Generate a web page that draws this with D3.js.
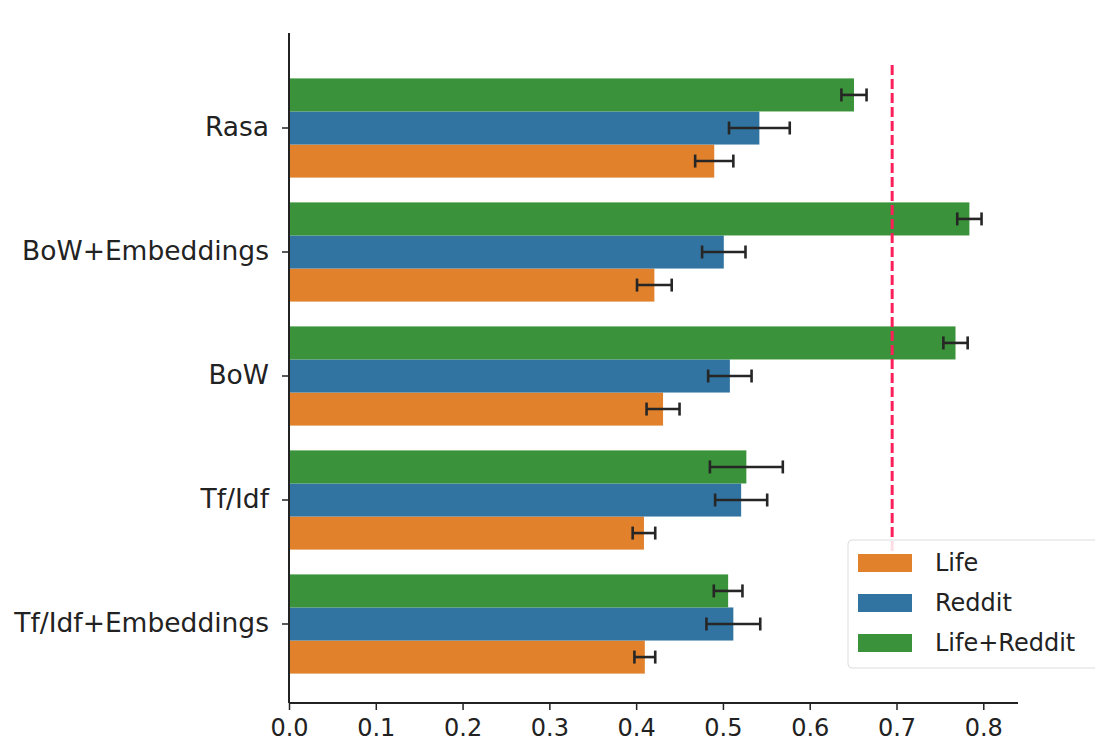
<!DOCTYPE html>
<html>
<head>
<meta charset="utf-8">
<script src="https://cdn.jsdelivr.net/npm/d3@7"></script>
<style>
	body { margin: 0; background: #fff; }
	text { font-family: "DejaVu Sans", sans-serif; fill: #222; }
</style>
</head>
<body>
<div id="container"></div>
<script>
const models = ["Rasa", "BoW+Embeddings", "BoW", "Tf/Idf", "Tf/Idf+Embeddings"];
const seriesNames = ["Life", "Reddit", "Life+Reddit"];
const lifeValues = [0.49, 0.421, 0.431, 0.409, 0.41];
const redditValues = [0.542, 0.501, 0.508, 0.521, 0.512];
const lifeRedditValues = [0.651, 0.784, 0.768, 0.527, 0.506];
const lifeErr = [0.022, 0.02, 0.019, 0.013, 0.012];
const redditErr = [0.035, 0.025, 0.025, 0.03, 0.031];
const lifeRedditErr = [0.0145, 0.014, 0.014, 0.042, 0.0165];
const xTicks = [0, 0.1, 0.2, 0.3, 0.4, 0.5, 0.6, 0.7, 0.8];
const refLine = 0.695;

const colors = { "Life": "#e1812c", "Reddit": "#3274a1", "Life+Reddit": "#3a923a" };
// stacking order inside a group, top to bottom
const stackOrder = ["Life+Reddit", "Reddit", "Life"];

const rows = [];
models.forEach((m, i) => {
	rows.push({ model: m, series: "Life", value: lifeValues[i], err: lifeErr[i] });
	rows.push({ model: m, series: "Reddit", value: redditValues[i], err: redditErr[i] });
	rows.push({ model: m, series: "Life+Reddit", value: lifeRedditValues[i], err: lifeRedditErr[i] });
});

const width = 1095;
const height = 749;

const svg = d3.select("#container").append("svg")
	.attr("width", width)
	.attr("height", height);

const x = d3.scaleLinear().domain([0, 0.84]).range([289, 1018]);

const y = d3.scaleBand()
	.domain(models)
	.range([66, 686])
	.paddingInner(0.2)
	.paddingOuter(0.1);

const ySub = d3.scaleBand()
	.domain(stackOrder)
	.range([0, y.bandwidth()]);

// bars
svg.append("g")
	.selectAll("rect")
	.data(rows)
	.join("rect")
	.attr("x", x(0))
	.attr("y", (d) => y(d.model) + ySub(d.series))
	.attr("width", (d) => x(d.value) - x(0))
	.attr("height", ySub.bandwidth())
	.attr("fill", (d) => colors[d.series]);

// error bars
const errG = svg.append("g")
	.selectAll("g")
	.data(rows)
	.join("g")
	.attr("stroke", "#262626")
	.attr("stroke-width", 2.6);

errG.append("line")
	.attr("x1", (d) => x(d.value - d.err))
	.attr("x2", (d) => x(d.value + d.err))
	.attr("y1", (d) => y(d.model) + ySub(d.series) + ySub.bandwidth() / 2)
	.attr("y2", (d) => y(d.model) + ySub(d.series) + ySub.bandwidth() / 2);

[-1, 1].forEach((s) => {
	errG.append("line")
		.attr("x1", (d) => x(d.value + s * d.err))
		.attr("x2", (d) => x(d.value + s * d.err))
		.attr("y1", (d) => y(d.model) + ySub(d.series) + ySub.bandwidth() / 2 - 6.5)
		.attr("y2", (d) => y(d.model) + ySub(d.series) + ySub.bandwidth() / 2 + 6.5);
});

// reference line
svg.append("line")
	.attr("x1", x(refLine))
	.attr("x2", x(refLine))
	.attr("y1", 65)
	.attr("y2", 560)
	.attr("stroke", "#ff1f5a")
	.attr("stroke-width", 3)
	.attr("stroke-dasharray", "10,4");

// axes
const xAxis = d3.axisBottom(x)
	.tickValues(xTicks)
	.tickFormat(d3.format(".1f"))
	.tickSize(7)
	.tickSizeOuter(0);

svg.append("g")
	.attr("class", "x-axis")
	.attr("transform", `translate(0, 703)`)
	.call(xAxis);

const yAxis = d3.axisLeft(y).tickSize(7).tickPadding(13).tickSizeOuter(0);

svg.append("g")
	.attr("class", "y-axis")
	.attr("transform", `translate(289, 0)`)
	.call(yAxis);

svg.selectAll(".x-axis text").attr("font-size", 24).attr("dy", "0.95em");
svg.selectAll(".y-axis text").attr("font-size", 26.5);
svg.selectAll(".x-axis .tick line, .y-axis .tick line").attr("stroke", "#222").attr("stroke-width", 1.5);
svg.selectAll(".x-axis path, .y-axis path").remove();

// spines
svg.append("line")
	.attr("x1", 289).attr("x2", 289)
	.attr("y1", 33).attr("y2", 703)
	.attr("stroke", "#222").attr("stroke-width", 2);
svg.append("line")
	.attr("x1", 289).attr("x2", x(0.84))
	.attr("y1", 703).attr("y2", 703)
	.attr("stroke", "#222").attr("stroke-width", 2);

// legend
const legend = svg.append("g").attr("transform", "translate(848, 540)");
legend.append("rect")
	.attr("x", 0).attr("y", 0)
	.attr("width", 260).attr("height", 128)
	.attr("rx", 4)
	.attr("fill", "#fff")
	.attr("fill-opacity", 0.85)
	.attr("stroke", "#ddd");

const items = legend.selectAll(".item")
	.data(seriesNames)
	.join("g")
	.attr("class", "item")
	.attr("transform", (d, i) => `translate(0, ${23 + i * 40})`);

items.append("rect")
	.attr("x", 10).attr("y", -9)
	.attr("width", 54).attr("height", 18)
	.attr("fill", (d) => colors[d]);

items.append("text")
	.attr("x", 87)
	.attr("y", 0)
	.attr("dy", "0.35em")
	.attr("font-size", 24)
	.text((d) => d);
</script>
</body>
</html>
